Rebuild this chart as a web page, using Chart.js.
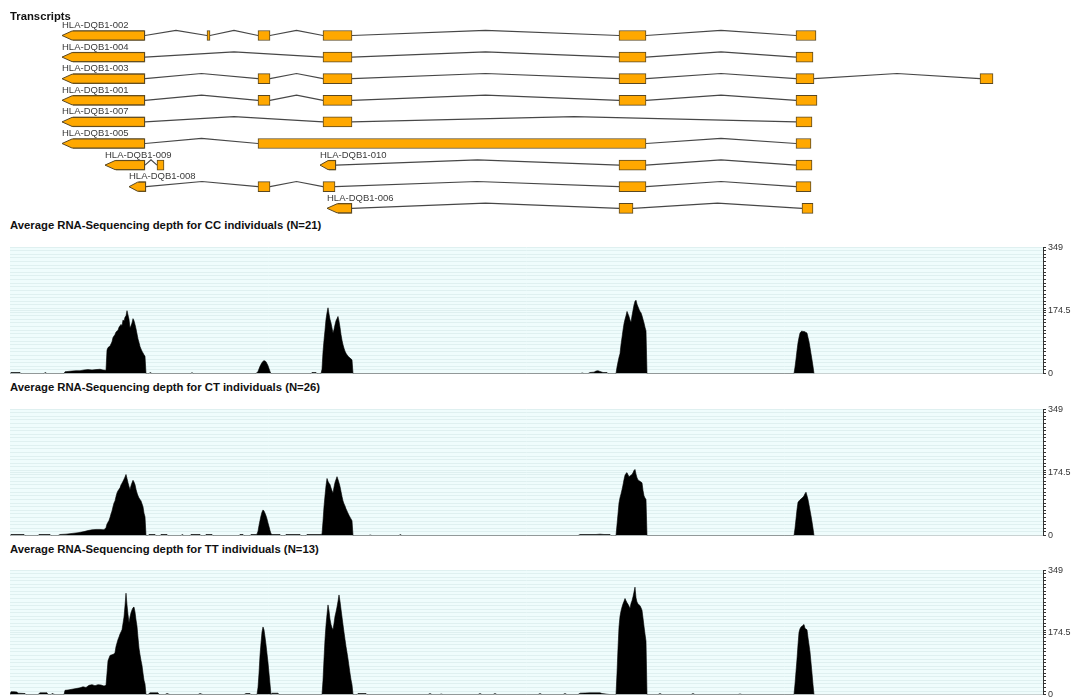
<!DOCTYPE html>
<html><head><meta charset="utf-8">
<script src="https://cdn.jsdelivr.net/npm/chart.js@4.4.1/dist/chart.umd.min.js"></script>
<style>
html,body{margin:0;padding:0;background:#fff;width:1078px;height:700px;overflow:hidden;position:relative;}
canvas{position:absolute;left:0;}
.t{position:absolute;left:10px;font:bold 11.3px 'Liberation Sans',Arial,sans-serif;line-height:13px;color:#111;white-space:nowrap;}
</style></head><body>
<canvas id="tr" width="1078" height="218" style="top:0px"></canvas>
<canvas id="cc" width="1078" height="141" style="top:240px"></canvas>
<canvas id="ct" width="1078" height="141" style="top:402px"></canvas>
<canvas id="tt" width="1078" height="139" style="top:563px"></canvas>
<div class="t" style="top:10px">Transcripts</div>
<div class="t" style="top:219px">Average RNA-Sequencing depth for CC individuals (N=21)</div>
<div class="t" style="top:381px">Average RNA-Sequencing depth for CT individuals (N=26)</div>
<div class="t" style="top:543px">Average RNA-Sequencing depth for TT individuals (N=13)</div>
<script>
// ---------- transcripts (positions in a shared genomic pixel coordinate) ----------
const transcriptNames = ['HLA-DQB1-002','HLA-DQB1-004','HLA-DQB1-003','HLA-DQB1-001','HLA-DQB1-007','HLA-DQB1-005','HLA-DQB1-009','HLA-DQB1-010','HLA-DQB1-008','HLA-DQB1-006'];
const transcriptRows = [0,1,2,3,4,5,6,6,7,8];
const exonStarts = [
  [62,207,258,323,619,796],
  [62,323,619,796],
  [62,258,323,619,796,980],
  [62,258,323,619,796],
  [62,323,796],
  [62,258,796],
  [105,157],
  [320,619,796],
  [129,258,323,619,796],
  [327,619,802]
];
const exonEnds = [
  [145,210,270,352,646,816],
  [145,352,646,813],
  [145,270,352,646,814,993],
  [145,270,352,646,817],
  [145,352,812],
  [145,646,811],
  [145,164],
  [336,646,812],
  [146,270,335,646,811],
  [352,633,813]
];

// ---------- average depth, [position, depth] ----------
const depthTickLabels = [0, 174.5, 349];
const depthMax = 349;

const ccDepth = [
[10,0],[11,3],[20,3],[21,0],[44,0],[45,3],[47,0],[64,0],[65,5],[68,6],[72,7],[76,8],[80,8],[84,10],[88,11],[92,10],[96,11],[100,12],[103,10],[106,9],
[107,65],[108,72],[110,76],[112,88],[113,100],[115,108],[116,115],[118,120],[119,128],[121,136],[122,132],[123,148],[124,145],[125,156],[126,160],[127,174],[128,162],[129,150],[130,126],[131,132],[132,140],[133,152],[134,146],[135,136],[136,124],[137,110],[138,96],[139,86],[140,75],[141,68],[142,62],[143,57],[144,52],[145,48],[146,0],
[149,0],[150,3],[152,0],[191,0],[192,3],[193,0],
[256,0],[258,6],[260,20],[262,31],[264,36],[266,33],[268,22],[270,6],[271,0],
[311,0],[312,3],[316,3],[317,0],
[321,0],[322,12],[323,60],[324,92],[325,120],[326,150],[327,168],[328,182],[329,165],[330,150],[331,140],[332,126],[333,112],[334,122],[335,135],[336,146],[337,152],[338,158],[339,145],[340,128],[341,108],[342,92],[343,80],[344,70],[345,62],[346,56],[347,52],[348,48],[350,43],[352,38],[353,0],
[581,0],[582,2],[584,0],[588,0],[590,3],[594,4],[596,7],[598,8],[600,6],[603,3],[607,3],[608,0],
[616,0],[617,18],[618,32],[619,45],[620,55],[621,80],[622,100],[623,120],[624,138],[625,150],[626,160],[627,172],[628,165],[629,158],[630,148],[631,142],[632,160],[633,175],[634,190],[635,200],[636,203],[637,192],[638,185],[639,178],[640,172],[641,168],[642,160],[643,150],[644,140],[645,128],[646,118],[647,0],
[794,0],[795,18],[796,40],[797,64],[798,85],[799,100],[800,112],[801,116],[802,118],[803,116],[804,117],[805,115],[806,114],[807,112],[808,100],[809,88],[810,72],[811,55],[812,38],[813,20],[814,0]
];

const ctDepth = [
[10,0],[11,3],[24,3],[25,0],[38,0],[39,3],[50,3],[51,0],[58,0],[60,3],[66,4],[72,6],[78,8],[84,11],[88,14],[92,16],[96,17],[100,17],[104,16],
[106,22],[107,32],[109,42],[110,50],[111,60],[112,68],[113,80],[114,90],[115,96],[116,108],[117,118],[118,124],[119,128],[120,132],[121,140],[122,145],[123,150],[124,156],[125,162],[126,169],[127,158],[128,146],[129,136],[130,127],[131,138],[132,146],[133,153],[134,148],[135,141],[136,128],[137,118],[138,110],[139,104],[140,100],[141,96],[142,88],[143,80],[144,62],[145,52],[146,0],
[148,0],[149,3],[155,3],[156,0],[160,0],[161,3],[167,3],[168,0],[181,0],[182,3],[184,0],[190,0],[191,3],[200,3],[201,0],[205,0],[206,3],[212,3],[213,0],[239,0],[240,3],[243,3],[244,0],[250,0],[251,3],[256,3],
[257,4],[258,12],[259,28],[260,42],[261,55],[262,65],[263,71],[264,68],[265,62],[266,55],[267,46],[268,35],[269,25],[270,14],[271,5],[272,3],[280,3],[281,0],[285,0],[286,3],[300,3],[301,0],[306,0],[307,3],[320,3],
[322,4],[323,40],[324,80],[325,110],[326,138],[327,158],[328,150],[329,145],[330,141],[331,132],[332,124],[333,118],[334,134],[335,147],[336,155],[337,163],[338,155],[339,146],[340,136],[341,122],[342,108],[343,96],[344,88],[345,82],[346,74],[347,68],[348,62],[349,56],[350,51],[351,46],[352,41],[353,0],
[369,0],[370,2],[372,0],[399,0],[400,3],[402,0],
[578,0],[580,3],[596,3],[600,4],[604,3],[610,3],[611,0],
[616,0],[617,30],[618,60],[619,90],[620,105],[621,115],[622,127],[623,140],[624,155],[625,167],[626,172],[627,174],[628,168],[629,163],[630,165],[631,167],[632,169],[633,174],[634,180],[635,183],[636,170],[637,160],[638,154],[639,152],[640,150],[641,148],[642,146],[643,125],[644,110],[645,104],[646,100],[647,0],
[794,0],[795,20],[796,46],[797,72],[798,92],[799,96],[800,99],[801,101],[802,104],[803,106],[804,110],[805,116],[806,120],[807,110],[808,100],[809,85],[810,70],[811,55],[812,38],[813,20],[814,0]
];

const ttDepth = [
[10,0],[11,8],[14,8],[17,7],[18,4],[25,3],[26,0],[38,0],[40,5],[47,5],[48,0],[51,0],[52,3],[55,0],
[64,0],[65,12],[68,13],[72,15],[76,17],[80,19],[83,22],[86,20],[89,26],[92,28],[95,25],[98,28],[101,27],[104,24],[106,26],
[107,60],[108,95],[110,110],[112,112],[114,114],[115,118],[116,135],[118,155],[119,162],[120,170],[121,176],[122,182],[123,200],[124,218],[125,250],[126,285],[127,252],[128,225],[129,202],[130,218],[131,230],[132,238],[133,244],[134,246],[135,232],[136,210],[137,192],[138,160],[139,130],[140,112],[141,96],[142,82],[143,60],[144,40],[145,30],[146,0],
[148,0],[150,5],[158,5],[159,0],[165,0],[167,3],[170,0],[198,0],[200,3],[203,0],[244,0],[246,3],[250,3],[251,0],
[257,0],[258,20],[259,60],[260,110],[261,145],[262,176],[263,190],[264,182],[265,162],[266,140],[267,115],[268,90],[269,60],[270,30],[271,0],[272,4],[278,4],[279,0],
[322,0],[323,40],[324,100],[325,155],[326,195],[327,225],[328,252],[329,235],[330,212],[331,197],[332,188],[333,182],[334,200],[335,220],[336,232],[337,246],[338,262],[339,280],[340,262],[341,240],[342,218],[343,196],[344,175],[345,155],[346,135],[347,118],[348,100],[349,80],[350,60],[351,42],[352,28],[353,0],
[357,0],[358,3],[366,3],[367,0],[428,0],[430,3],[432,0],[440,0],[441,2],[443,0],[478,0],[480,3],[482,0],[493,0],[495,3],[497,0],[538,0],[540,3],[542,0],[563,0],[565,3],[567,0],
[578,0],[580,4],[590,5],[600,5],[602,3],[610,0],
[616,0],[617,60],[618,130],[619,190],[620,220],[621,235],[622,246],[623,255],[624,262],[625,270],[626,264],[627,258],[628,254],[629,248],[630,242],[631,256],[632,264],[633,275],[634,288],[635,302],[636,272],[637,260],[638,255],[639,252],[640,250],[641,244],[642,237],[643,215],[644,192],[645,170],[646,150],[647,0],
[658,0],[660,3],[662,0],[691,0],[693,3],[695,0],[738,0],[740,2],[742,0],
[794,0],[795,30],[796,65],[797,100],[798,140],[799,175],[800,185],[801,190],[802,192],[803,195],[804,197],[805,186],[806,184],[807,182],[808,160],[809,140],[810,120],[811,90],[812,60],[813,28],[814,0]
];

// ---------- styling ----------
const FONT = "'Liberation Sans', Arial, sans-serif";
const exonFill = '#FFA800';
const exonEdge = '#5a4822';
const intronColor = '#474747';
const rowH = 21.6, firstRowY = 35.5, trHeight = 218, intronRise = 0.24, arrowLen = 10;

// ---------- transcripts chart ----------
const exonBars = [];
exonStarts.forEach((starts, i) => {
  starts.forEach((s, j) => exonBars.push({ y: transcriptRows[i], x: [s, exonEnds[i][j]] }));
});
const intronSets = transcriptNames.map((name, i) => {
  const pts = [];
  const st = exonStarts[i], en = exonEnds[i], r = transcriptRows[i];
  for (let j = 0; j < st.length - 1; j++) {
    pts.push({ x: en[j], y: r });
    pts.push({ x: (en[j] + st[j + 1]) / 2, y: r - intronRise });
    pts.push({ x: st[j + 1], y: r });
  }
  return { type: 'line', label: name, data: pts, borderColor: intronColor, borderWidth: 1.2,
           pointRadius: 0, tension: 0, fill: false, order: 2 };
});

const trDeco = {
  id: 'trDeco',
  afterDatasetsDraw(chart) {
    const { ctx, scales: { x, y } } = chart;
    const half = 5;
    ctx.save();
    transcriptNames.forEach((name, i) => {
      const yc = y.getPixelForValue(transcriptRows[i]);
      const l = x.getPixelForValue(exonStarts[i][0]);
      const r = x.getPixelForValue(exonEnds[i][0]);
      const a = Math.min(arrowLen, (r - l) * 0.5);
      ctx.fillStyle = '#fff';
      ctx.fillRect(l - 1, yc - half - 1, a + 2, 2 * half + 2);
      ctx.beginPath();
      ctx.moveTo(l, yc);
      ctx.lineTo(l + a, yc - half + 0.5);
      ctx.lineTo(r - 0.5, yc - half + 0.5);
      ctx.lineTo(r - 0.5, yc + half - 0.5);
      ctx.lineTo(l + a, yc + half - 0.5);
      ctx.closePath();
      ctx.fillStyle = exonFill; ctx.fill();
      ctx.strokeStyle = exonEdge; ctx.lineWidth = 1; ctx.stroke();
      ctx.fillStyle = '#3a3a3a';
      ctx.font = '9.5px ' + FONT;
      ctx.textBaseline = 'alphabetic';
      ctx.textAlign = 'left';
      ctx.fillText(name, l, yc - 7.5);
    });
    ctx.restore();
  }
};

new Chart(document.getElementById('tr'), {
  type: 'line',
  data: {
    datasets: [
      { type: 'bar', indexAxis: 'y', label: 'exons', data: exonBars, backgroundColor: exonFill,
        borderColor: exonEdge, borderWidth: 1, borderSkipped: false, barThickness: 10, grouped: false, order: 1 },
      ...intronSets
    ]
  },
  options: {
    responsive: false, animation: false, events: [],
    layout: { padding: 0 },
    plugins: { legend: { display: false }, tooltip: { enabled: false } },
    scales: {
      x: { type: 'linear', min: 0, max: 1078, display: false, offset: false, bounds: 'data', grid: { offset: false } },
      y: { type: 'linear', reverse: true, min: -firstRowY / rowH, max: (trHeight - firstRowY) / rowH,
           display: false, offset: false, bounds: 'data', beginAtZero: false, grid: { offset: false } }
    }
  },
  plugins: [trDeco]
});

// ---------- depth charts ----------
const depthTicks = [];
for (let v = 0; v <= 340; v += 10) { depthTicks.push(v); if (v === 170) depthTicks.push(174.5); }
depthTicks.push(depthMax);

const panelBg = {
  id: 'panelBg',
  beforeDraw(chart) {
    const { ctx, chartArea: a } = chart;
    ctx.save();
    ctx.fillStyle = '#effcfc';
    ctx.fillRect(a.left, a.top, a.right - a.left, a.bottom - a.top);
    ctx.restore();
  }
};

function depthChart(id, series, padBottom) {
  return new Chart(document.getElementById(id), {
    type: 'line',
    data: { datasets: [{ data: series.map(p => ({ x: p[0], y: p[1] })), fill: 'origin',
      backgroundColor: '#000', borderColor: '#000', borderWidth: 0.6, pointRadius: 0, tension: 0 }] },
    options: {
      responsive: false, animation: false, events: [],
      layout: { padding: { left: 10, top: 6, bottom: padBottom, right: 0 } },
      plugins: { legend: { display: false }, tooltip: { enabled: false } },
      scales: {
        x: { type: 'linear', min: 10, max: 1043, display: false },
        y: {
          position: 'right', min: 0, max: depthMax,
          afterBuildTicks(s) { s.ticks = depthTicks.map(v => ({ value: v })); },
          afterFit(s) { s.width = 35; },
          ticks: { autoSkip: false, maxRotation: 0, padding: 2, color: '#333',
            font: { size: 9, family: FONT },
            callback: v => depthTickLabels.includes(v) ? String(v) : '' },
          grid: { color: c => (c.tick && c.tick.value === 0) ? '#c9d2d2' : '#dff0f0',
                  tickColor: '#333', tickLength: 3, lineWidth: 1 },
          border: { display: true, color: '#333', width: 1 }
        }
      }
    },
    plugins: [panelBg]
  });
}
depthChart('cc', ccDepth, 6);
depthChart('ct', ctDepth, 6);
depthChart('tt', ttDepth, 5);
</script>
</body></html>
